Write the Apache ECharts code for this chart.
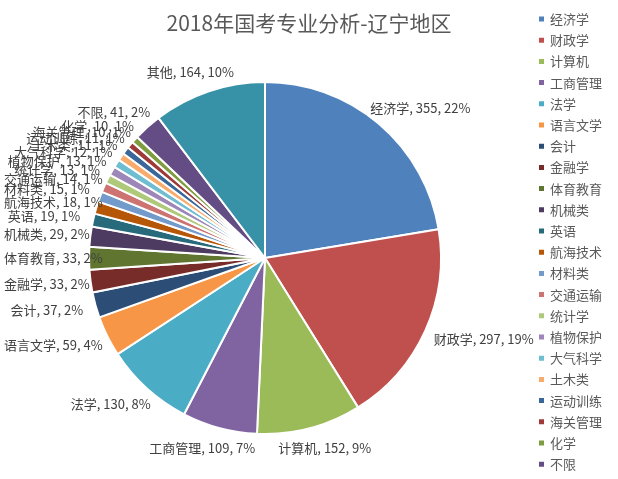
<!DOCTYPE html>
<html>
<head>
<meta charset="utf-8">
<script src="https://cdn.jsdelivr.net/npm/echarts@6/dist/echarts.min.js"></script>
<style>html,body{margin:0;padding:0;background:#fff;}#c{width:618px;height:479px;}</style>
</head>
<body>
<div id="c"></div>
<script>
var categories = ['经济学','财政学','计算机','工商管理','法学','语言文学','会计','金融学','体育教育','机械类','英语','航海技术','材料类','交通运输','统计学','植物保护','大气科学','土木类','运动训练','海关管理','化学','不限','其他'];
var values = [355,297,152,109,130,59,37,33,33,29,19,18,15,14,13,13,12,11,11,10,10,41,164];
var percents = [22,19,9,7,8,4,2,2,2,2,1,1,1,1,1,1,1,1,1,1,1,2,10];
var legendNames = categories.slice(0, 22);
var colors = ['#4F81BD','#C0504D','#9BBB59','#8064A2','#4BACC6','#F79646','#2C4D75','#772C2A','#5F7530','#4D3B62','#276A7C','#B65708','#729ACA','#CD7371','#AFC97A','#9D87B8','#6FBDD1','#F9AB6B','#3A6799','#9E3B38','#7E9C40','#644C84','#3892A7'];

var CX = 265, CY = 258, R = 176, LABEL_GAP = 14;
var total = values.reduce(function(a, b){ return a + b; }, 0);
var midAngles = [];
(function(){
  var acc = 0;
  for (var i = 0; i < values.length; i++) {
    midAngles.push((acc + values[i] / 2) / total * Math.PI * 2);
    acc += values[i];
  }
})();

var chart = echarts.init(document.getElementById('c'));
var data = categories.map(function(n, i){ return {name: n, value: values[i]}; });
chart.setOption({
  animation: false,
  color: colors,
  title: {
    text: '2018年国考专业分析-辽宁地区',
    left: 'center',
    top: 8,
    textStyle: {fontFamily: 'Noto Sans CJK SC', fontSize: 21, fontWeight: 'normal', color: '#595959'}
  },
  legend: {
    orient: 'vertical',
    left: 532,
    top: 7,
    data: legendNames,
    icon: 'rect',
    itemWidth: 7,
    itemHeight: 7,
    itemGap: 7.2,
    textStyle: {fontFamily: 'Noto Sans CJK SC', fontSize: 13, color: '#595959', lineHeight: 14}
  },
  series: [{
    type: 'pie',
    center: [CX, CY],
    radius: [0, R],
    startAngle: 90,
    clockwise: true,
    avoidLabelOverlap: false,
    data: data,
    itemStyle: {borderColor: '#fff', borderWidth: 2},
    label: {
      show: true,
      position: 'outside',
      fontFamily: 'Noto Sans CJK SC',
      fontSize: 13,
      color: '#404040',
      formatter: function(p){ return p.name + ', ' + p.value + ', ' + percents[p.dataIndex] + '%'; }
    },
    labelLine: {show: false, length: 6, length2: 0},
    labelLayout: function(params){
      var a = midAngles[params.dataIndex];
      var ux = Math.sin(a), uy = -Math.cos(a);
      var w = params.labelRect.width, h = params.labelRect.height;
      var d = R + LABEL_GAP;
      var x = CX + ux * d + ux * w / 2;
      var y = CY + uy * d + uy * h / 2;
      if (x - w / 2 < 4) x = 4 + w / 2;
      return {x: x, y: y, align: 'center', verticalAlign: 'middle', hideOverlap: false, moveOverlap: null};
    },
    emphasis: {disabled: true}
  }]
});
</script>
</body>
</html>
